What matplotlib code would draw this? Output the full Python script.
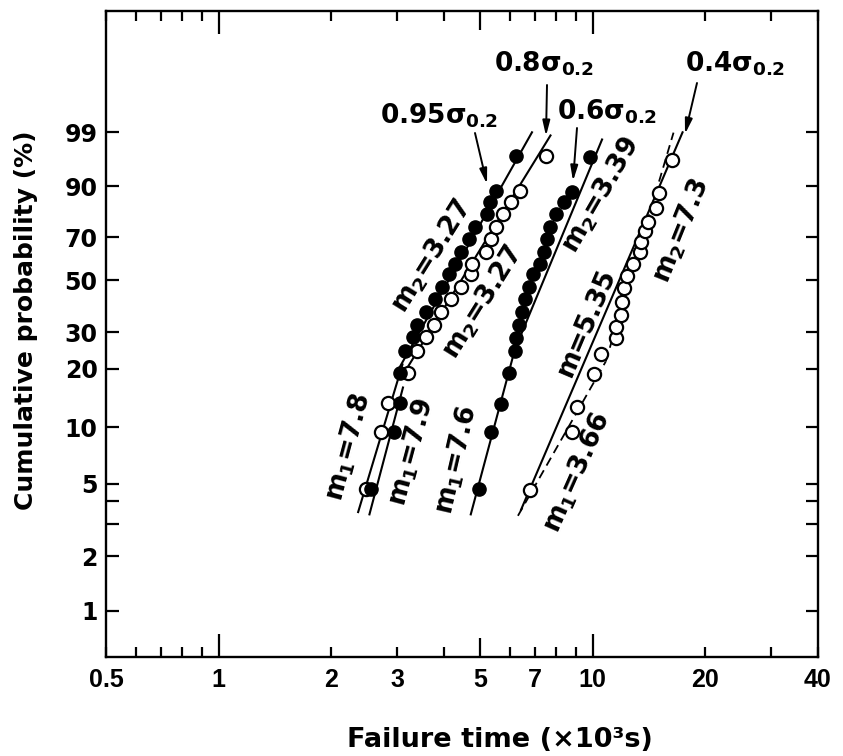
import numpy as np
import matplotlib
matplotlib.use("Agg")
import matplotlib.pyplot as plt
from matplotlib.ticker import NullFormatter

# failure probability (%) for the 19 plotted ranks
F_std = [4.7, 9.5, 13.4, 19.1, 24.3, 28.6, 32.5, 37.1, 42.2, 47.2,
         52.6, 57.6, 62.8, 68.9, 74.8, 80.0, 84.7, 88.5, 96.6]

# failure time (x10^3 s)
t_095 = [2.56, 2.94, 3.06, 3.06, 3.15, 3.31, 3.40, 3.58, 3.79, 3.96,
         4.13, 4.29, 4.45, 4.67, 4.85, 5.22, 5.31, 5.51, 6.25]
t_08 = [2.48, 2.72, 2.83, 3.20, 3.40, 3.58, 3.77, 3.93, 4.19, 4.44,
        4.72, 4.77, 5.18, 5.34, 5.50, 5.75, 6.03, 6.38, 7.52]
t_06 = [4.97, 5.36, 5.68, 5.97, 6.19, 6.25, 6.35, 6.45, 6.61, 6.75,
        6.92, 7.22, 7.40, 7.54, 7.68, 7.97, 8.37, 8.81, 9.86]
F_06 = [4.7, 9.5, 13.3, 19.0, 24.3, 28.3, 32.5, 37.1, 42.2, 47.2,
        52.6, 57.6, 62.8, 68.9, 74.8, 80.0, 84.7, 88.2, 96.5]
t_04 = [6.79, 8.79, 9.06, 10.06, 10.5, 11.52, 11.52, 11.88, 11.95, 12.10,
        12.32, 12.79, 13.35, 13.43, 13.76, 14.02, 14.72, 15.0, 16.25]
F_04 = [4.6, 9.5, 12.8, 18.9, 23.5, 28.3, 31.8, 36.0, 41.0, 46.8,
        51.7, 57.2, 62.8, 67.5, 72.6, 77.0, 82.4, 87.8, 96.0]

# fitted Weibull lines, end points (t, F%)
fit_095_lo = ([2.53, 3.11], [3.4, 16.1])
fit_095_hi = ([2.97, 6.88], [18.7, 99.0])
fit_08_lo = ([2.36, 3.10], [3.5, 21.0])
fit_08_hi = ([3.15, 7.71], [19.4, 98.8])
fit_06_lo = ([4.72, 6.19], [3.4, 24.8])
fit_06_hi = ([6.19, 10.59], [24.8, 98.5])
fit_04_all = ([6.43, 17.38], [3.6, 99.0])
fit_04_lo = ([6.31, 10.83], [3.34, 21.7])
fit_04_hi = ([10.83, 16.44], [21.7, 98.98])

x_ticks = [0.5, 1, 2, 3, 5, 7, 10, 20, 40]
x_labels = ["0.5", "1", "2", "3", "5", "7", "10", "20", "40"]
x_minor = [0.6, 0.7, 0.8, 0.9, 4, 6, 8, 9, 30]
y_ticks = [1, 2, 5, 10, 20, 30, 50, 70, 90, 99]
y_minor = [3, 4]


def fwd(p):
    p = np.clip(np.asarray(p, dtype=float), 1e-9, 100 - 1e-9)
    return np.log(-np.log(1 - p / 100.0))


def inv(w):
    return 100.0 * (1 - np.exp(-np.exp(np.asarray(w, dtype=float))))


plt.rcParams["font.family"] = "DejaVu Sans"
plt.rcParams["font.weight"] = "bold"

fig = plt.figure(figsize=(8.43, 7.56), dpi=100)
ax = fig.add_axes([106 / 843, 1 - 657 / 756, 712 / 843, 646 / 756])

ax.set_xscale("log")
ax.set_yscale("function", functions=(fwd, inv))
ax.set_xlim(0.5, 40)
ax.set_ylim(inv(-5.19), inv(3.08))

lw = 1.5
for seg in (fit_095_lo, fit_095_hi, fit_08_lo, fit_08_hi,
            fit_06_lo, fit_06_hi, fit_04_all):
    ax.plot(seg[0], seg[1], color="black", lw=lw, zorder=2)
for seg in (fit_04_lo, fit_04_hi):
    ax.plot(seg[0], seg[1], color="black", lw=1.3, ls=(0, (5, 3)), zorder=2)

ms = 9.5
ax.plot(t_095, F_std, "o", ms=ms, mfc="black", mec="black", zorder=4)
ax.plot(t_08, F_std, "o", ms=ms, mfc="white", mec="black", mew=1.6, zorder=3)
ax.plot(t_06, F_06, "o", ms=ms, mfc="black", mec="black", zorder=4)
ax.plot(t_04, F_04, "o", ms=ms, mfc="white", mec="black", mew=1.6, zorder=3)

# ticks
ax.set_xticks(x_ticks, labels=x_labels)
ax.set_xticks(x_minor, minor=True)
ax.xaxis.set_minor_formatter(NullFormatter())
ax.set_yticks(y_ticks, labels=[str(v) for v in y_ticks])
ax.set_yticks(y_minor, minor=True)
ax.yaxis.set_minor_formatter(NullFormatter())
ax.tick_params(which="both", direction="in", top=True, right=True,
               width=1.6, length=7.5, color="black")
ax.tick_params(axis="y", which="both", length=9, pad=6)
ax.tick_params(axis="x", which="major", pad=8)
for lab in ax.get_yticklabels():
    lab.set_fontsize(17)
    lab.set_fontweight("bold")
for lab in ax.get_xticklabels():
    lab.set_family("Liberation Sans")
    lab.set_fontsize(18)
    lab.set_fontweight("bold")
for tick in ax.xaxis.get_major_ticks():
    loc = tick.get_loc()
    if loc in (1, 10):
        tick.tick1line.set_markersize(16.5)
        tick.tick2line.set_markersize(16.5)
    elif loc == 5:
        tick.tick1line.set_markersize(14)
        tick.tick2line.set_markersize(14)
for sp in ax.spines.values():
    sp.set_linewidth(1.7)


def fx(px):
    return (px - 106) / 712.0


def fy(py):
    return (657 - py) / 646.0


ax.set_xlabel("Failure time (×10³s)", fontsize=19.5, fontweight="bold")
ax.xaxis.set_label_coords(fx(500), fy(727))
ax.set_ylabel("Cumulative probability (%)", fontsize=18, fontweight="bold")
ax.yaxis.set_label_coords(fx(38), fy(320))

# stress level labels with arrows
levels = [("0.95", 380, 123, (475, 133), (487, 184)),
          ("0.8", 494, 72, (547, 85), (546, 136)),
          ("0.6", 557, 120, (577, 128), (573, 181)),
          ("0.4", 685, 72, (697, 83), (685, 134))]
for txt, px, py, a0, a1 in levels:
    ax.text(fx(px), fy(py), txt + "σ$_{\\mathbf{0.2}}$", transform=ax.transAxes,
            fontsize=19, fontweight="bold", ha="left", va="baseline")
    ax.annotate("", xy=(fx(a1[0]), fy(a1[1])), xycoords="axes fraction",
                xytext=(fx(a0[0]), fy(a0[1])), textcoords="axes fraction",
                arrowprops=dict(arrowstyle="-|>,head_width=0.22,head_length=0.9",
                                color="black", lw=1.4, shrinkA=0, shrinkB=0))

# slope labels
slopes = [("m$_{\\mathbf{2}}$=3.27", 432, 256, 58),
          ("m$_{\\mathbf{2}}$=3.27", 483, 302, 58),
          ("m$_{\\mathbf{2}}$=3.39", 601, 195, 60),
          ("m=5.35", 587, 322, 67),
          ("m$_{\\mathbf{2}}$=7.3", 681, 231, 68),
          ("m$_{\\mathbf{1}}$=7.8", 348, 447, 75),
          ("m$_{\\mathbf{1}}$=7.9", 412, 452, 75),
          ("m$_{\\mathbf{1}}$=7.6", 457, 460, 77),
          ("m$_{\\mathbf{1}}$=3.66", 577, 473, 66)]
for txt, px, py, rot in slopes:
    ax.text(fx(px), fy(py), txt, transform=ax.transAxes, fontsize=19,
            fontweight="bold", rotation=rot, rotation_mode="anchor",
            ha="center", va="center")

fig.savefig("out.png", dpi=100)
